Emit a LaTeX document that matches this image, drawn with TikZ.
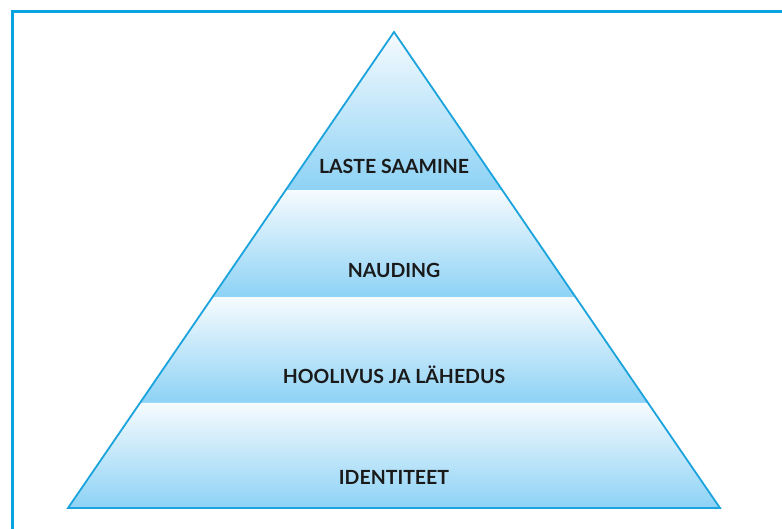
\documentclass[tikz,border=0pt]{standalone}
\usepackage{fontspec}
\setmainfont{Lato}
\usetikzlibrary{calc}
\definecolor{frameblue}{HTML}{0AA2DF}
\definecolor{edgeblue}{HTML}{1AA3DC}
\definecolor{bandtop}{HTML}{F6FBFE}
\definecolor{bandbot}{HTML}{8DD2F5}
\definecolor{lbltext}{HTML}{1A1A1A}
\tikzset{band/.style={top color=bandtop, bottom color=bandbot, draw=none},
lbl/.style={font=\bfseries\fontsize{19.5}{22}\selectfont, text=lbltext}}

\begin{document}
\begin{tikzpicture}[x=1pt,y=-1pt]
\clip (0,0) rectangle (782,529);
\fill[white] (0,0) rectangle (782,529);
\draw[frameblue, line width=3pt] (12,560) -- (12,12) -- (800,12);
\coordinate (apex) at (394,32);
\coordinate (bl) at (68,508);
\coordinate (br) at (720,508);
% band borders along the sides
\foreach \n/\t in {1/0.332,2/0.557,3/0.779}{
	\coordinate (l\n) at ($(apex)!\t!(bl)$);
	\coordinate (r\n) at ($(apex)!\t!(br)$);
	}
\shade[band] (apex) -- (l1) -- (r1) -- cycle;
\shade[band] (l1) -- (l2) -- (r2) -- (r1) -- cycle;
\shade[band] (l2) -- (l3) -- (r3) -- (r2) -- cycle;
\shade[band] (l3) -- (bl) -- (br) -- (r3) -- cycle;
\draw[edgeblue, line width=1.8pt, line join=miter] (apex) -- (bl) -- (br) -- cycle;
\node[lbl] (laste) at (394,166) {LASTE SAAMINE};
\node[lbl] (nauding) at (394,270) {NAUDING};
\node[lbl] (hool) at (394,375) {HOOLIVUS JA LÄHEDUS};
\node[lbl] (ident) at (394,477) {IDENTITEET};
\end{tikzpicture}
\end{document}
